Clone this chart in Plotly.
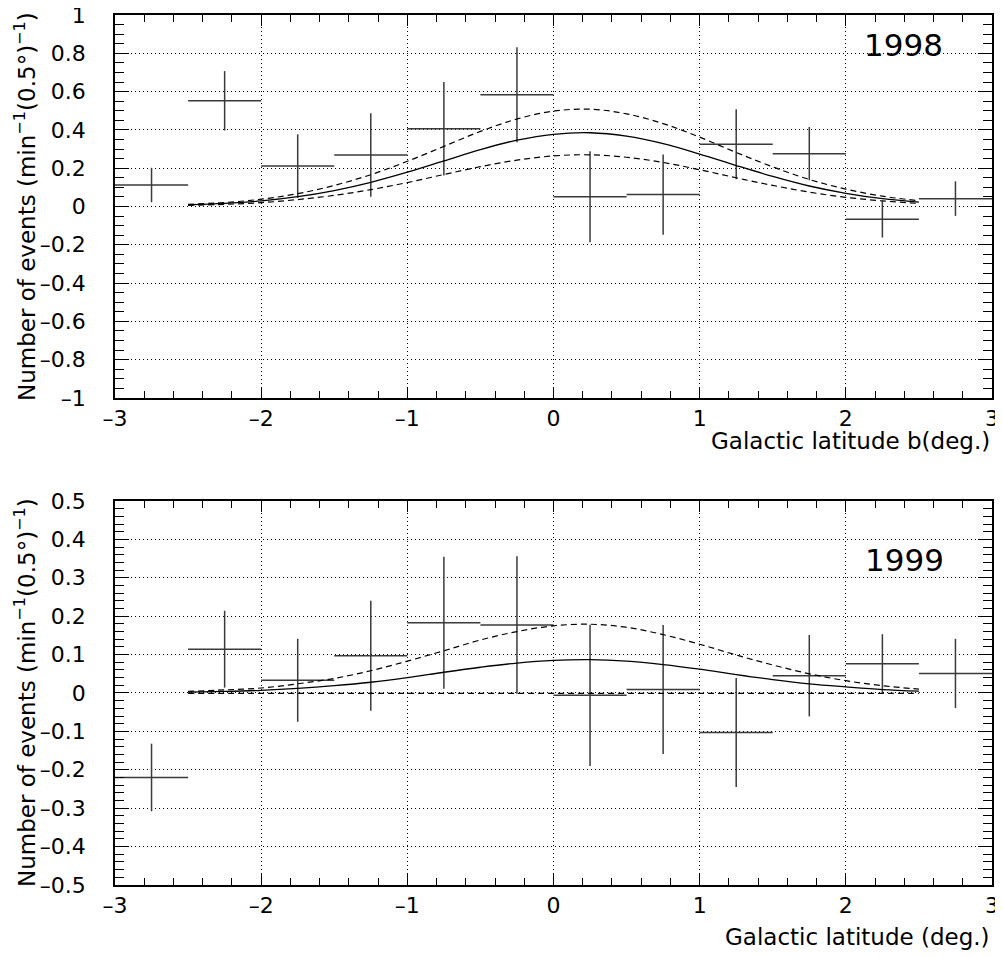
import plotly.graph_objects as go

# ---- data ----
bin_centers = [-2.75, -2.25, -1.75, -1.25, -0.75, -0.25, 0.25, 0.75, 1.25, 1.75, 2.25, 2.75]
bin_half = [0.25] * 12

y1998 = [0.112, 0.552, 0.211, 0.269, 0.406, 0.584, 0.051, 0.062, 0.325, 0.276, -0.067, 0.041]
e1998 = [0.090, 0.155, 0.166, 0.218, 0.244, 0.248, 0.238, 0.210, 0.183, 0.139, 0.095, 0.090]

y1999 = [-0.220, 0.114, 0.033, 0.097, 0.183, 0.177, -0.006, 0.009, -0.103, 0.045, 0.076, 0.051]
e1999 = [0.088, 0.100, 0.108, 0.143, 0.172, 0.179, 0.184, 0.168, 0.142, 0.106, 0.077, 0.090]

curve_x = [-2.5, -2.25, -2.0, -1.75, -1.5, -1.25, -1.0, -0.75, -0.5, -0.25, 0.0,
           0.25, 0.5, 0.75, 1.0, 1.25, 1.5, 1.75, 2.0, 2.25, 2.5]

fit1998 = [0.008, 0.016, 0.029, 0.051, 0.083, 0.126, 0.179, 0.238, 0.297, 0.346, 0.377,
           0.385, 0.367, 0.328, 0.274, 0.214, 0.157, 0.107, 0.069, 0.041, 0.023]
up1998 = [0.011, 0.021, 0.038, 0.067, 0.110, 0.166, 0.236, 0.314, 0.392, 0.457, 0.498,
          0.508, 0.484, 0.433, 0.362, 0.282, 0.207, 0.141, 0.091, 0.054, 0.030]
lo1998 = [0.006, 0.011, 0.020, 0.036, 0.058, 0.088, 0.125, 0.167, 0.208, 0.242, 0.264,
          0.270, 0.257, 0.230, 0.192, 0.150, 0.110, 0.075, 0.048, 0.029, 0.016]

fit1999 = [0.002, 0.004, 0.007, 0.012, 0.019, 0.028, 0.040, 0.054, 0.067, 0.078, 0.085,
           0.087, 0.083, 0.074, 0.062, 0.048, 0.035, 0.024, 0.016, 0.009, 0.005]
up1999 = [0.004, 0.008, 0.013, 0.024, 0.038, 0.058, 0.083, 0.110, 0.138, 0.160, 0.175,
          0.179, 0.171, 0.152, 0.127, 0.099, 0.073, 0.050, 0.032, 0.019, 0.010]
lo1999 = [-0.001] * 21

x_ticks = [-3, -2, -1, 0, 1, 2, 3]
x_ticktext = ["\u20133", "\u20132", "\u20131", "0", "1", "2", "3"]
y1_ticks = [-1, -0.8, -0.6, -0.4, -0.2, 0, 0.2, 0.4, 0.6, 0.8, 1]
y1_ticktext = ["\u20131", "\u20130.8", "\u20130.6", "\u20130.4", "\u20130.2", "0",
               "0.2", "0.4", "0.6", "0.8", "1"]
y2_ticks = [-0.5, -0.4, -0.3, -0.2, -0.1, 0, 0.1, 0.2, 0.3, 0.4, 0.5]
y2_ticktext = ["\u20130.5", "\u20130.4", "\u20130.3", "\u20130.2", "\u20130.1", "0",
               "0.1", "0.2", "0.3", "0.4", "0.5"]

FONT = "DejaVu Sans"
CROSS = "#3a3a3a"

# page body has an 8px default margin: figure is sized/positioned to compensate
OFF = 8
W, H = 1003 - OFF, 957 - OFF
ML, MR, MT, MB = 115 - OFF, 11, 15 - OFF, 72

fig = go.Figure()


def add_panel(yvals, errs, fit, up, lo, xa, ya):
    fig.add_trace(go.Scatter(
        x=bin_centers, y=yvals, mode="markers",
        marker=dict(size=1, color=CROSS),
        error_x=dict(type="data", array=bin_half, width=0, thickness=1.5, color=CROSS),
        error_y=dict(type="data", array=errs, width=0, thickness=1.5, color=CROSS),
        xaxis=xa, yaxis=ya, showlegend=False))
    fig.add_trace(go.Scatter(x=curve_x, y=fit, mode="lines",
                             line=dict(color="black", width=1.3, shape="spline"),
                             xaxis=xa, yaxis=ya, showlegend=False))
    for arr in (up, lo):
        fig.add_trace(go.Scatter(x=curve_x, y=arr, mode="lines",
                                 line=dict(color="black", width=1.2, dash="6px,4px", shape="spline"),
                                 xaxis=xa, yaxis=ya, showlegend=False))


add_panel(y1998, e1998, fit1998, up1998, lo1998, "x", "y")
add_panel(y1999, e1999, fit1999, up1999, lo1999, "x2", "y2")

common_axis = dict(
    showline=True, linecolor="black", linewidth=1.5, mirror="ticks",
    ticks="inside", ticklen=11, tickwidth=1.3, tickcolor="black",
    showgrid=True, gridcolor="black", gridwidth=1, griddash="1px,3px",
    zeroline=False, automargin=False, ticklabeloverflow="allow",
    tickfont=dict(family=FONT, size=22, color="black"),
)

xcommon = dict(common_axis, range=[-3, 3], tickvals=x_ticks, ticktext=x_ticktext,
               minor=dict(ticks="inside", ticklen=7, dtick=0.2, tickwidth=1.2,
                          tickcolor="black", showgrid=False),
               ticklabelstandoff=0)

fig.update_layout(
    width=W, height=H,
    paper_bgcolor="white", plot_bgcolor="white",
    margin=dict(l=ML, r=MR, t=MT, b=MB),
    font=dict(family=FONT, color="black"),
    xaxis=dict(xcommon, domain=[0, 1], anchor="y"),
    yaxis=dict(common_axis, domain=[0.5598, 1.0], anchor="x", range=[-1, 1],
               tickvals=y1_ticks, ticktext=y1_ticktext, ticklen=14,
               minor=dict(ticks="inside", ticklen=9, dtick=0.05, tickwidth=1.2,
                          tickcolor="black", showgrid=False),
               ticklabelstandoff=23),
    xaxis2=dict(xcommon, domain=[0, 1], anchor="y2"),
    yaxis2=dict(common_axis, domain=[0.0, 0.4414], anchor="x2", range=[-0.5, 0.5],
                tickvals=y2_ticks, ticktext=y2_ticktext, ticklen=14,
                minor=dict(ticks="inside", ticklen=9, dtick=0.02, tickwidth=1.2,
                           tickcolor="black", showgrid=False),
                ticklabelstandoff=23),
)

ytitle = "Number of events (min<sup>\u22121</sup>(0.5\u00b0)<sup>\u22121</sup>)"
# positions given in screen pixels of the reference
annots = [
    dict(text="1998", x=903, y=45, font_size=31),
    dict(text="1999", x=904, y=560, font_size=31),
    dict(text="Galactic latitude b(deg.)", x=992, y=441, xanchor="right", font_size=23),
    dict(text="Galactic latitude (deg.)", x=992, y=937, xanchor="right", font_size=23),
    dict(text=ytitle, x=25, y=207, textangle=-90, font_size=23),
    dict(text=ytitle, x=25, y=693, textangle=-90, font_size=23),
]
PW, PH = W - ML - MR, H - MT - MB
for a in annots:
    fx, fy = a["x"] - OFF, a["y"] - OFF
    fig.add_annotation(
        text=a["text"], xref="paper", yref="paper",
        x=(fx - ML) / PW, y=(H - MB - fy) / PH,
        xanchor=a.get("xanchor", "center"), yanchor="middle",
        textangle=a.get("textangle", 0), showarrow=False,
        font=dict(family=FONT, size=a["font_size"], color="black"))

fig.write_html("out.html")
